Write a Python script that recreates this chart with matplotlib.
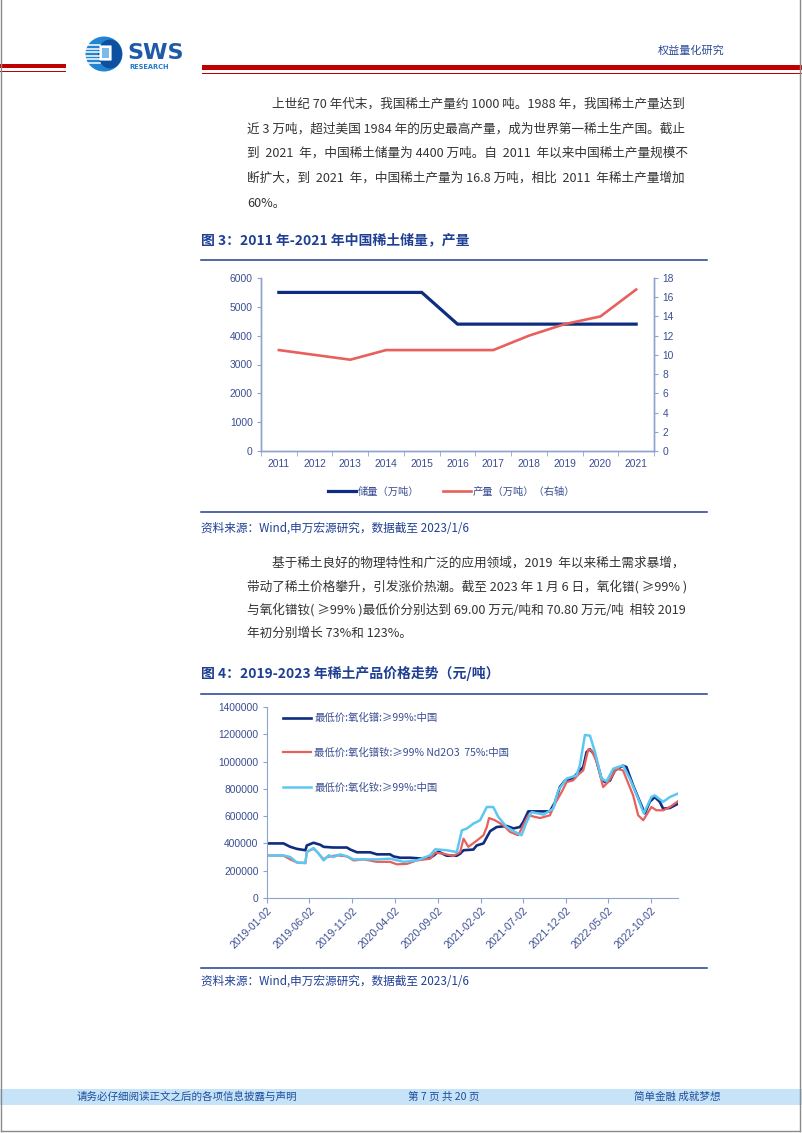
import numpy as np
import pandas as pd
import matplotlib
matplotlib.use("Agg")
import matplotlib.pyplot as plt
from matplotlib.patches import Rectangle, Ellipse, FancyBboxPatch

plt.rcParams['font.family'] = ['Noto Sans CJK SC', 'DejaVu Sans']
CHART_FONT = ['Liberation Sans', 'Noto Sans CJK SC']

# ---- page text ----
para1 = [
    "上世纪 70 年代末，我国稀土产量约 1000 吨。1988 年，我国稀土产量达到",
    "近 3 万吨，超过美国 1984 年的历史最高产量，成为世界第一稀土生产国。截止",
    "到  2021  年，中国稀土储量为 4400 万吨。自  2011  年以来中国稀土产量规模不",
    "断扩大，到  2021  年，中国稀土产量为 16.8 万吨，相比  2011  年稀土产量增加",
    "60%。",
]
para2 = [
    "基于稀土良好的物理特性和广泛的应用领域，2019  年以来稀土需求暴增，",
    "带动了稀土价格攀升，引发涨价热潮。截至 2023 年 1 月 6 日，氧化镨( ≥99% )",
    "与氧化镨钕( ≥99% )最低价分别达到 69.00 万元/吨和 70.80 万元/吨  相较 2019",
    "年初分别增长 73%和 123%。",
]
title3 = "图 3：2011 年-2021 年中国稀土储量，产量"
title4 = "图 4：2019-2023 年稀土产品价格走势（元/吨）"
source = "资料来源：Wind,申万宏源研究，数据截至 2023/1/6"
footer = ["请务必仔细阅读正文之后的各项信息披露与声明", "第 7 页 共 20 页", "简单金融 成就梦想"]

# ---- chart 3 data ----
years = ['2011', '2012', '2013', '2014', '2015', '2016', '2017', '2018', '2019', '2020', '2021']
reserves = [5500, 5500, 5500, 5500, 5500, 4400, 4400, 4400, 4400, 4400, 4400]
production = [10.5, 10.0, 9.5, 10.5, 10.5, 10.5, 10.5, 12.0, 13.2, 14.0, 16.8]

# ---- chart 4 data ----
pr_dates = ['2019-01-02', '2019-03-02', '2019-03-26', '2019-04-19', '2019-05-19', '2019-05-24',
            '2019-06-17', '2019-07-11', '2019-07-23', '2019-08-27', '2019-10-14', '2019-10-26',
            '2019-11-19', '2020-01-05', '2020-01-29', '2020-03-16', '2020-03-28', '2020-04-21',
            '2020-05-27', '2020-07-01', '2020-08-06', '2020-08-18', '2020-09-04', '2020-10-04',
            '2020-11-09', '2020-11-21', '2020-12-03', '2021-01-07', '2021-01-19', '2021-02-12',
            '2021-02-24', '2021-03-08', '2021-03-31', '2021-05-06', '2021-05-30', '2021-06-22',
            '2021-07-04', '2021-07-22', '2021-10-07', '2021-10-25', '2021-11-12', '2021-11-30',
            '2021-12-29', '2022-01-22', '2022-02-03', '2022-02-15', '2022-02-27', '2022-03-17',
            '2022-04-09', '2022-04-21', '2022-05-09', '2022-05-27', '2022-06-25', '2022-07-07',
            '2022-07-31', '2022-08-24', '2022-09-11', '2022-09-28', '2022-10-16', '2022-11-03',
            '2022-11-15', '2022-12-09', '2023-01-06']
pr_values = [400000, 400000, 375000, 360000, 350000, 385000,
             405000, 390000, 375000, 370000, 370000, 355000,
             335000, 335000, 320000, 320000, 305000, 295000,
             295000, 290000, 295000, 310000, 340000, 310000,
             310000, 325000, 350000, 355000, 385000, 400000,
             445000, 490000, 520000, 528000, 510000, 520000,
             557000, 635000, 635000, 700000, 815000, 860000,
             880000, 935000, 960000, 1070000, 1090000, 1045000,
             875000, 850000, 860000, 935000, 970000, 960000,
             825000, 705000, 620000, 705000, 740000, 705000,
             655000, 660000, 690000]

prnd_dates = ['2019-01-02', '2019-03-02', '2019-03-26', '2019-04-19', '2019-05-19', '2019-05-24',
              '2019-06-17', '2019-06-29', '2019-07-23', '2019-08-04', '2019-09-08', '2019-10-14',
              '2019-11-07', '2019-12-12', '2020-01-29', '2020-03-16', '2020-04-09', '2020-05-15',
              '2020-06-19', '2020-08-06', '2020-08-24', '2020-09-22', '2020-10-28', '2020-11-21',
              '2020-12-03', '2020-12-20', '2021-01-19', '2021-02-12', '2021-02-24', '2021-03-04',
              '2021-03-25', '2021-04-24', '2021-05-18', '2021-06-16', '2021-07-04', '2021-07-22',
              '2021-09-02', '2021-10-07', '2021-10-25', '2021-11-18', '2021-12-06', '2021-12-29',
              '2022-01-16', '2022-02-03', '2022-02-21', '2022-03-05', '2022-03-23', '2022-04-15',
              '2022-05-03', '2022-06-02', '2022-06-25', '2022-07-31', '2022-08-18', '2022-09-05',
              '2022-10-04', '2022-10-22', '2022-11-15', '2022-12-09', '2023-01-06']
prnd_values = [312000, 310000, 283000, 260000, 255000, 340000,
               360000, 340000, 283000, 300000, 313000, 305000,
               275000, 283000, 265000, 265000, 247000, 250000,
               275000, 288000, 332000, 325000, 308000, 337000,
               435000, 375000, 420000, 460000, 520000, 586000,
               570000, 533000, 484000, 460000, 533000, 606000,
               586000, 606000, 690000, 777000, 850000, 862000,
               904000, 935000, 1090000, 1082000, 997000, 813000,
               850000, 948000, 935000, 752000, 606000, 570000,
               667000, 643000, 643000, 667000, 708000]

nd_dates = ['2019-01-02', '2019-03-02', '2019-03-26', '2019-04-19', '2019-05-19', '2019-05-24',
            '2019-06-17', '2019-07-05', '2019-07-23', '2019-08-10', '2019-08-27', '2019-09-20',
            '2019-10-14', '2019-11-07', '2020-01-29', '2020-03-16', '2020-05-03', '2020-06-19',
            '2020-08-06', '2020-08-24', '2020-10-04', '2020-11-09', '2020-11-27', '2020-12-14',
            '2021-01-07', '2021-01-31', '2021-02-24', '2021-03-19', '2021-04-06', '2021-05-06',
            '2021-06-05', '2021-06-28', '2021-07-16', '2021-08-03', '2021-09-14', '2021-10-19',
            '2021-11-06', '2021-12-06', '2022-01-10', '2022-01-22', '2022-02-09', '2022-02-27',
            '2022-03-17', '2022-04-09', '2022-04-27', '2022-05-21', '2022-06-25', '2022-07-19',
            '2022-08-18', '2022-09-07', '2022-10-04', '2022-10-16', '2022-11-15', '2022-12-09',
            '2023-01-06']
nd_values = [312000, 312000, 300000, 260000, 258000, 337000,
             367000, 325000, 276000, 313000, 300000, 320000,
             305000, 283000, 283000, 288000, 265000, 275000,
             313000, 357000, 350000, 337000, 496000, 508000,
             545000, 570000, 667000, 667000, 594000, 520000,
             484000, 460000, 557000, 630000, 611000, 655000,
             790000, 875000, 899000, 972000, 1195000, 1190000,
             1070000, 875000, 855000, 948000, 972000, 875000,
             728000, 620000, 740000, 752000, 705000, 740000,
             765000]

price_ticks = ['2019-01-02', '2019-06-02', '2019-11-02', '2020-04-02', '2020-09-02',
               '2021-02-02', '2021-07-02', '2021-12-02', '2022-05-02', '2022-10-02']
labels4 = ['最低价:氧化镨:≥99%:中国', '最低价:氧化镨钕:≥99% Nd2O3  75%:中国', '最低价:氧化钕:≥99%:中国']

NAVY = '#0E2C80'
RED = '#E8605C'
SKY = '#5CC8F2'
TITLE_BLUE = '#1F3F94'
AXIS = '#8FA3D1'
TICK = '#3A4E92'
TEXT = '#333333'

W, H = 802, 1133
fig = plt.figure(figsize=(W / 100, H / 100), dpi=100)

# page background layer in pixel coordinates
bg = fig.add_axes([0, 0, 1, 1])
bg.set_xlim(0, W)
bg.set_ylim(H, 0)
bg.axis('off')

# header
bg.add_patch(Rectangle((0, 64), 66, 4, color='#C00000', lw=0))
bg.add_patch(Rectangle((0, 71), 66, 1, color='#C00000', lw=0))
bg.add_patch(Rectangle((202, 65), 600, 5, color='#C00000', lw=0))
bg.add_patch(Rectangle((202, 73), 600, 1, color='#C00000', lw=0))
bg.add_patch(Ellipse((104, 54), 37, 35, color='#2384D2', lw=0))
bg.add_patch(Ellipse((110, 54), 24, 29, color='#0F4FA0', lw=0))
for yy in [45, 48.5, 52, 55.5, 59, 62.5]:
    bg.plot([86, 100], [yy, yy], color='white', lw=1.1)
bg.add_patch(FancyBboxPatch((100, 46), 11, 14, boxstyle='round,pad=0.6', fc='white', ec='none'))
bg.add_patch(Rectangle((102, 48), 7, 10, color='#7ABBEA', lw=0))
bg.text(127, 53, 'SWS', fontsize=16, fontweight='bold', color='#1F5AA8',
        family='DejaVu Sans', va='center', ha='left')
bg.text(129, 67, 'RESEARCH', fontsize=4.8, fontweight='bold', color='#1F7ACB',
        family='DejaVu Sans', va='center', ha='left')
bg.text(658, 51, '权益量化研究', fontsize=8, color='#2A4B9B', va='center', ha='left')

# paragraph 1
for i, line in enumerate(para1):
    x0 = 272 if i == 0 else 247
    bg.text(x0, 104 + i * 24.8, line, fontsize=9.1, color=TEXT, va='center', ha='left')

# figure 3 frame
bg.text(201, 240, title3, fontsize=10, fontweight='bold', color=TITLE_BLUE, va='center', ha='left')
bg.plot([201, 707], [260, 260], color=TITLE_BLUE, lw=1.1)
bg.plot([201, 707], [512, 512], color=TITLE_BLUE, lw=1.1)
bg.text(201, 528, source, fontsize=8.4, color=TITLE_BLUE, va='center', ha='left')

# paragraph 2
for i, line in enumerate(para2):
    x0 = 272 if i == 0 else 247
    bg.text(x0, 563 + i * 23.4, line, fontsize=9.1, color=TEXT, va='center', ha='left')

# figure 4 frame
bg.text(201, 673, title4, fontsize=10, fontweight='bold', color=TITLE_BLUE, va='center', ha='left')
bg.plot([201, 707], [694, 694], color=TITLE_BLUE, lw=1.1)
bg.plot([201, 707], [968, 968], color=TITLE_BLUE, lw=1.1)
bg.text(201, 981, source, fontsize=8.4, color=TITLE_BLUE, va='center', ha='left')

# footer
bg.add_patch(Rectangle((0, 1089), W, 16, color='#C6E3F8', lw=0))
bg.text(77, 1097, footer[0], fontsize=7.6, color='#1F4E9C', va='center', ha='left')
bg.text(408, 1097, footer[1], fontsize=7.6, color='#1F4E9C', va='center', ha='left')
bg.text(634, 1097, footer[2], fontsize=7.6, color='#1F4E9C', va='center', ha='left')

# page border
bg.plot([0.8, 0.8], [0, 1131], color='#8A8A8A', lw=1)
bg.plot([800, 800], [0, 1131], color='#8A8A8A', lw=1)
bg.plot([0.8, 800], [1131, 1131], color='#8A8A8A', lw=1)


def style_ticks(ax, size=7.4):
    for lab in ax.get_xticklabels() + ax.get_yticklabels():
        lab.set_family(CHART_FONT)
        lab.set_fontsize(size)
        lab.set_color(TICK)


# ---- chart 3 ----
ax1 = fig.add_axes([261 / W, 1 - 451 / H, 393 / W, 173 / H])
x = np.arange(len(years))
l1, = ax1.plot(x, reserves, color=NAVY, lw=2.3, solid_joinstyle='miter')
ax1.set_xlim(-0.5, len(years) - 0.5)
ax1.set_ylim(0, 6000)
ax1.set_yticks(np.arange(0, 6001, 1000))
ax1.set_xticks(x)
ax1.set_xticklabels(years)
ax1.set_xticks(np.arange(-0.5, len(years), 1.0), minor=True)
ax1.tick_params(axis='x', which='major', length=0, pad=6)
ax1.tick_params(axis='x', which='minor', length=3.5, direction='out', color=AXIS)
ax1.tick_params(axis='y', length=3, direction='out', color=AXIS, pad=3)
ax2 = ax1.twinx()
l2, = ax2.plot(x, production, color=RED, lw=1.9)
ax2.set_ylim(0, 18)
ax2.set_yticks(np.arange(0, 19, 2))
ax2.tick_params(axis='y', length=3, direction='out', color=AXIS, pad=3)
for a in (ax1, ax2):
    a.spines['top'].set_visible(False)
    for s in ('left', 'right', 'bottom'):
        a.spines[s].set_color(AXIS)
        a.spines[s].set_linewidth(1.0)
    a.set_facecolor('none')
    style_ticks(a)
fig.legend([l1, l2], ['储量（万吨）', '产量（万吨）（右轴）'], loc='center',
           bbox_to_anchor=(452 / W, 1 - 492 / H), ncol=2, frameon=False,
           fontsize=7.4, handlelength=2.7, handletextpad=0.2, columnspacing=2.3,
           labelcolor=TICK)

# ---- chart 4 ----
ax3 = fig.add_axes([267 / W, 1 - 898 / H, 411 / W, 191 / H])
ax3.plot(pd.to_datetime(pr_dates), pr_values, color=NAVY, lw=1.9, label=labels4[0])
ax3.plot(pd.to_datetime(prnd_dates), prnd_values, color=RED, lw=1.6, label=labels4[1])
ax3.plot(pd.to_datetime(nd_dates), nd_values, color=SKY, lw=1.8, label=labels4[2])
ax3.set_xlim(pd.Timestamp('2019-01-02'), pd.Timestamp('2023-01-07'))
ax3.set_ylim(0, 1400000)
ax3.set_yticks(np.arange(0, 1400001, 200000))
ax3.set_yticklabels([f'{v:d}' for v in range(0, 1400001, 200000)])
ax3.set_xticks(pd.to_datetime(price_ticks))
ax3.set_xticklabels(price_ticks, rotation=45, ha='right', rotation_mode='anchor')
ax3.tick_params(axis='x', length=3.5, direction='out', color=AXIS, pad=2)
ax3.tick_params(axis='y', length=3, direction='out', color=AXIS, pad=3)
for s in ('top', 'right'):
    ax3.spines[s].set_visible(False)
for s in ('left', 'bottom'):
    ax3.spines[s].set_color(AXIS)
ax3.set_facecolor('none')
style_ticks(ax3)
for lab in ax3.get_xticklabels():
    lab.set_fontsize(7.6)
leg = ax3.legend(loc='upper left', bbox_to_anchor=(283 / W, 1 - 713 / H),
                 bbox_transform=fig.transFigure, borderaxespad=0, borderpad=0,
                 handlelength=2.7, handletextpad=0.3, labelspacing=2.35,
                 frameon=False, fontsize=7.5, labelcolor=TICK)

fig.savefig('out.png', dpi=100)
